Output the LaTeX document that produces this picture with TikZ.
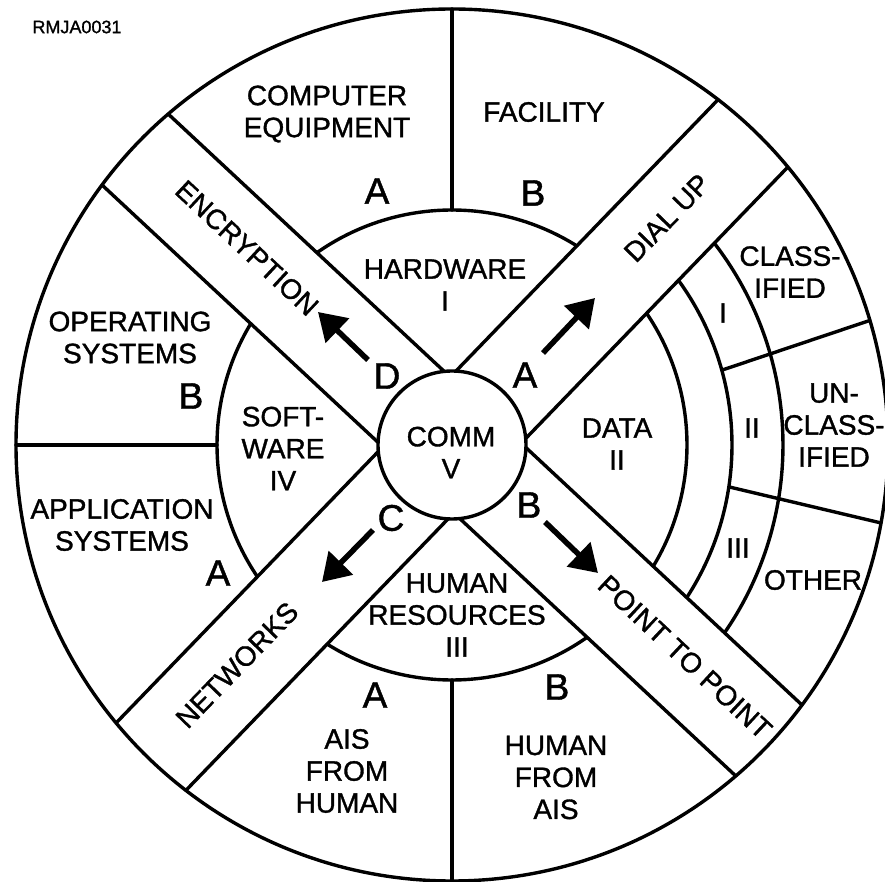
\documentclass[tikz,border=0pt]{standalone}
\usepackage{fontspec}
\setmainfont[FakeBold=1.2]{Liberation Sans}
\usetikzlibrary{arrows.meta}
\begin{document}
\begin{tikzpicture}[x=1pt,y=1pt,
  ln/.style={line width=3.4pt, line cap=round, line join=round},
  lbl/.style={font=\fontsize{28}{32}\selectfont, align=center, inner sep=0pt},
  big/.style={font=\fontsize{37}{40}\selectfont, inner sep=0pt},
  arr/.style={line width=5.5pt, -{Triangle[length=27pt,width=33pt]}},
]
\useasboundingbox (-452,-437) rectangle (433,445);
\coordinate (O) at (0,0);
% circles
\draw[ln] (O) circle[radius=436];
\draw[ln] (O) circle[radius=74];
% bands (half width 48.5)
\draw[ln] (96.05:74) -- (130.61:436);
\draw[ln] (177.95:74) -- (143.39:436);
\draw[ln] (-2.05:74) -- (-36.61:436);
\draw[ln] (-83.95:74) -- (-49.39:436);
\draw[ln] (86.95:74) -- (52.39:436);
\draw[ln] (5.05:74) -- (39.61:436);
\draw[ln] (266.95:74) -- (232.39:436);
\draw[ln] (185.05:74) -- (219.61:436);
% middle ring arcs
\draw[ln] (57.91:235) arc[start angle=57.91, end angle=125.09, radius=235];
\draw[ln] (148.91:235) arc[start angle=148.91, end angle=214.09, radius=235];
\draw[ln] (237.91:235) arc[start angle=237.91, end angle=305.09, radius=235];
\draw[ln] (-31.09:235) arc[start angle=-31.09, end angle=34.09, radius=235];
% data rings
\draw[ln] (-33.03:280) arc[start angle=-33.03, end angle=36.03, radius=280];
\draw[ln] (-34.57:331) arc[start angle=-34.57, end angle=37.57, radius=331];
% radial dividers
\draw[ln] (90:235) -- (90:436);
\draw[ln] (270:235) -- (270:436);
\draw[ln] (180:235) -- (180:436);
\draw[ln] (15.5:280) -- (16.6:436);
\draw[ln] (-8.6:280) -- (-10.3:436);
% arrows
\coordinate (e1) at (-84,85);  \coordinate (e2) at (-134,133);
\coordinate (d1) at (91,92);   \coordinate (d2) at (143,147);
\coordinate (p1) at (93,-77);  \coordinate (p2) at (146,-128);
\coordinate (n1) at (-79,-85); \coordinate (n2) at (-130,-137);
\draw[arr] (e1) -- (e2);
\draw[arr] (d1) -- (d2);
\draw[arr] (p1) -- (p2);
\draw[arr] (n1) -- (n2);
% texts
\node[font=\fontsize{18}{20}\selectfont, inner sep=0pt] (id) at (-375,418) {RMJA0031};
\node[lbl] (ce) at (-125,331) {COMPUTER\\EQUIPMENT};
\node[big] (hwA) at (-75,254) {A};
\node[lbl] (fac) at (92,333) {FACILITY};
\node[big] (hwB) at (81,252) {B};
\node[lbl] (hw) at (-7,160) {HARDWARE\\I};
\node[lbl] (cls) at (338,173) {CLASS-\\IFIED};
\node[lbl] (dI) at (271,132) {I};
\node[lbl] (ucls) at (382,20) {UN-\\CLASS-\\IFIED};
\node[lbl] (dII) at (300,17) {II};
\node[lbl] (data) at (165,1) {DATA\\II};
\node[lbl] (dIII) at (286,-103) {III};
\node[lbl] (oth) at (361,-135) {OTHER};
\node[lbl] (hr) at (5,-170) {HUMAN\\RESOURCES\\III};
\node[big] (aisA) at (-77,-250) {A};
\node[lbl] (afh) at (-105,-326) {AIS\\FROM\\HUMAN};
\node[big] (hfaB) at (105,-242) {B};
\node[lbl] (hfa) at (104,-332.5) {HUMAN\\FROM\\AIS};
\node[lbl] (app) at (-330,-80) {APPLICATION\\SYSTEMS};
\node[big] (appA) at (-234,-128) {A};
\node[lbl] (os) at (-322,107.5) {OPERATING\\SYSTEMS};
\node[big] (osB) at (-261,49) {B};
\node[lbl] (sw) at (-169,-3.5) {SOFT-\\WARE\\IV};
\node[lbl] (comm) at (-1,-7.5) {COMM\\V};
\node[big] (lD) at (-65,69) {D};
\node[big] (lA) at (73,70) {A};
\node[big] (lB) at (77,-60) {B};
\node[big] (lC) at (-61,-73) {C};
\node[lbl, rotate=-43] (enc) at (-205,197) {ENCRYPTION};
\node[lbl, rotate=46] (dial) at (215,227) {DIAL UP};
\node[lbl, rotate=46] (net) at (-215,-220) {NETWORKS};
\node[lbl, rotate=-43] (ptp) at (233,-212) {POINT TO POINT};
\end{tikzpicture}
\end{document}
